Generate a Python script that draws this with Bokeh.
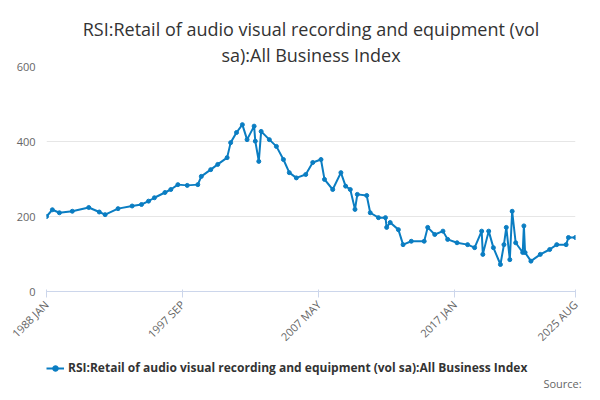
from bokeh.plotting import figure
from bokeh.layouts import column
from bokeh.models import Legend, LegendItem, FixedTicker, Title, Label
from bokeh.embed import file_html
from bokeh.resources import INLINE
import math

months = [0, 5, 11, 22, 36, 45, 50, 61, 73, 81, 87, 92, 101, 106, 112, 120, 129, 132, 140, 146,
          154, 157, 162, 167, 171, 177, 178, 181, 183, 190, 196, 202, 207, 213, 221, 227, 234, 237,
          244, 251, 255, 259, 263, 265, 273, 276, 283, 289, 290, 293, 300, 304, 311, 322, 325, 331,
          338, 342, 350, 359, 365, 371, 372, 377, 381, 387, 390, 392, 395, 397, 400, 406, 407, 408,
          413, 421, 429, 435, 443, 445, 451]
values = [200, 218, 210, 214, 224, 212, 205, 221, 228, 232, 241, 250, 264, 272, 285, 283, 285, 307, 325, 339,
          357, 397, 424, 445, 405, 441, 401, 347, 427, 405, 387, 352, 317, 303, 312, 344, 352, 299,
          272, 317, 281, 272, 219, 259, 256, 210, 197, 197, 171, 184, 165, 125, 134, 134, 171, 152,
          161, 139, 130, 125, 117, 161, 99, 161, 117, 72, 125, 171, 85, 214, 130, 104, 175, 104,
          81, 99, 112, 125, 125, 144, 144]
tick_pos = [0, 116, 232, 348, 451]
tick_labels = ["1988 JAN", "1997 SEP", "2007 MAY", "2017 JAN", "2025 AUG"]
series_name = "RSI:Retail of audio visual recording and equipment (vol sa):All Business Index"
title_lines = ["RSI:Retail of audio visual recording and equipment (vol", "sa):All Business Index"]

color = "#0a7dc2"

p = figure(width=584, height=356, output_backend="svg", toolbar_location=None,
           x_range=(0, 451), y_range=(0, 600), min_border_left=46, min_border_right=9,
           min_border_top=66, min_border_bottom=65, title=None)
for line in reversed(title_lines):
    t = Title(text=line, align="center", text_font="Open Sans", text_font_size="18px",
              text_font_style="normal", text_color="#333333", standoff=0)
    p.add_layout(t, "above")

p.line(months, values, line_color=color, line_width=2)
p.scatter(months, values, size=4, color=color)

p.xaxis.ticker = FixedTicker(ticks=tick_pos)
p.xaxis.major_label_overrides = {t: l for t, l in zip(tick_pos, tick_labels)}
p.xaxis.major_label_orientation = math.pi / 4
p.yaxis.ticker = FixedTicker(ticks=[0, 200, 400, 600])
for ax in (p.xaxis[0], p.yaxis[0]):
    ax.major_label_text_font = "Open Sans"
    ax.major_label_text_font_size = "11px"
    ax.major_label_text_color = "#666666"
    ax.minor_tick_line_color = None
p.yaxis.axis_line_color = None
p.yaxis.major_tick_line_color = None
p.xaxis.axis_line_color = "#ccd6eb"
p.xaxis.major_tick_line_color = "#ccd6eb"
p.xgrid.grid_line_color = None
p.ygrid.grid_line_color = "#e6e6e6"
p.outline_line_color = None

# legend strip
q = figure(width=592, height=36, output_backend="svg", toolbar_location=None,
           x_range=(0, 592), y_range=(0, 36), min_border=0, title=None)
q.axis.visible = False
q.grid.visible = False
q.outline_line_color = None
l1 = q.line([-50, -40], [-50, -50], line_color=color, line_width=2)
l2 = q.scatter([-45], [-50], size=5, color=color)
legend = Legend(items=[LegendItem(label=series_name, renderers=[l1, l2])],
                location=(0, 16), orientation="horizontal", border_line_color=None,
                background_fill_alpha=0,
                label_text_font="Open Sans", label_text_font_size="12px",
                label_text_font_style="bold", label_text_color="#333333",
                padding=0, margin=0, glyph_width=18, label_height=14, glyph_height=14,
                label_standoff=4)
q.add_layout(legend, "center")
src = Label(x=590, y=2, text="Source:",
            text_align="right", text_font="Open Sans", text_font_size="11px",
            text_color="#666666")
q.add_layout(src)

open("out.html", "w").write(file_html(column(p, q, spacing=0), INLINE))
